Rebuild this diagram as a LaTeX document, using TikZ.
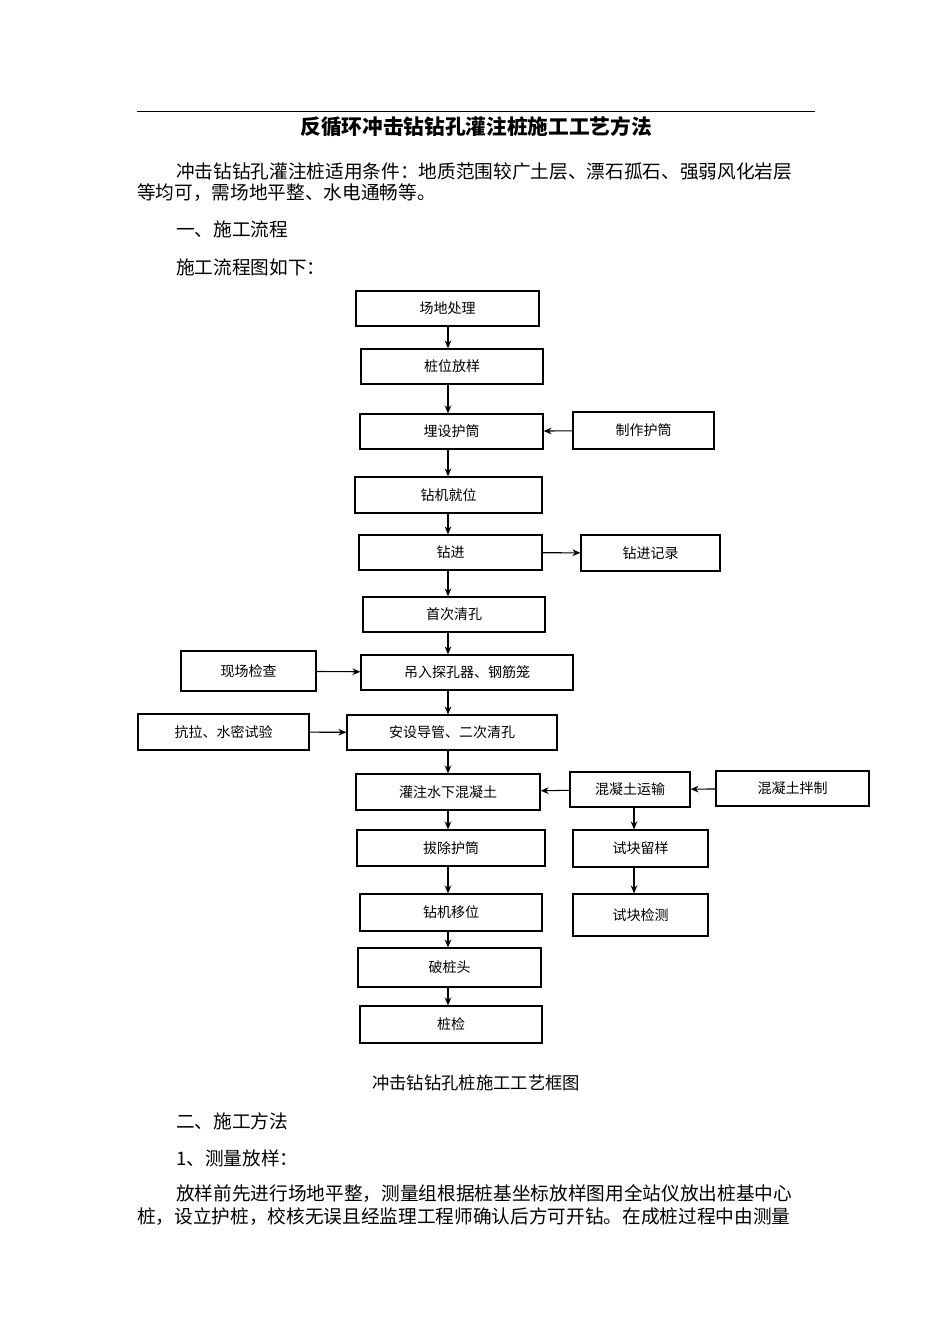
\documentclass[tikz,border=0pt]{standalone}
\usepackage{fontspec}
\setmainfont{Noto Sans CJK SC}
\usetikzlibrary{arrows.meta}
\begin{document}
\begin{tikzpicture}[x=0.75pt,y=-0.75pt,
 bx/.style={draw,line width=0.9pt,font=\fontsize{10.5}{12}\selectfont,inner sep=0pt},
 ar/.style={-{Stealth[length=6pt,width=5pt]},line width=0.8pt},
 para/.style={anchor=west,inner sep=0pt,font=\fontsize{14}{16}\selectfont}]
\useasboundingbox (0,0) rectangle (950,1344);
\draw[line width=0.6pt] (137,111) -- (815,111);
\node[inner sep=0pt,font=\bfseries\fontsize{15.5}{18}\selectfont] at (476,127) {反循环冲击钻钻孔灌注桩施工工艺方法};
\node[para] at (176,171) {冲击钻钻孔灌注桩适用条件：地质范围较广土层、漂石孤石、强弱风化岩层};
\node[para] at (137,193) {等均可，需场地平整、水电通畅等。};
\node[para] at (176,229) {一、施工流程};
\node[para] at (176,267) {施工流程图如下：};
\node[inner sep=0pt,font=\fontsize{13}{16}\selectfont] at (476,1083) {冲击钻钻孔桩施工工艺框图};
\node[para] at (176,1121) {二、施工方法};
\node[para] at (176,1158) {1、测量放样：};
\node[para] at (176,1194) {放样前先进行场地平整，测量组根据桩基坐标放样图用全站仪放出桩基中心};
\node[para] at (137,1217) {桩，设立护桩，校核无误且经监理工程师确认后方可开钻。在成桩过程中由测量};
% boxes
\newcommand{\bxx}[6]{\node[bx,minimum width={(#4-#2)*0.75pt},minimum height={(#5-#3)*0.75pt}] (#1) at ({(#2+#4)/2},{(#3+#5)/2}) {#6};}
\bxx{a}{356}{291}{539}{326}{场地处理}
\bxx{b}{361}{349}{543}{384}{桩位放样}
\bxx{c}{360}{414}{543}{449}{埋设护筒}
\bxx{c2}{573}{412}{714}{449}{制作护筒}
\bxx{d}{355}{477}{542}{513}{钻机就位}
\bxx{e}{359}{535}{542}{570}{钻进}
\bxx{e2}{581}{535}{720}{571}{钻进记录}
\bxx{f}{363}{597}{545}{632}{首次清孔}
\bxx{g}{361}{655}{573}{690}{吊入探孔器、钢筋笼}
\bxx{g2}{181}{651}{316}{691}{现场检查}
\bxx{h}{347}{715}{557}{750}{安设导管、二次清孔}
\bxx{h2}{138}{714}{309}{750}{抗拉、水密试验}
\bxx{i}{356}{774}{540}{810}{灌注水下混凝土}
\bxx{i2}{570}{772}{690}{807}{混凝土运输}
\bxx{i3}{716}{771}{869}{806}{混凝土拌制}
\bxx{j}{357}{830}{545}{866}{拔除护筒}
\bxx{j2}{573}{830}{708}{867}{试块留样}
\bxx{k}{360}{894}{542}{931}{钻机移位}
\bxx{k2}{573}{894}{708}{936}{试块检测}
\bxx{l}{358}{948}{541}{987}{破桩头}
\bxx{m}{360}{1006}{542}{1043}{桩检}
\foreach \p/\q in {a/b,b/c,c/d,d/e,e/f,f/g,g/h,h/i,i/j,j/k,k/l,l/m}
  \draw[ar] (\p.south -| 448,0) -- (\q.north -| 448,0);
\draw[ar] (c2) -- (c);
\draw[ar] (e) -- (e2);
\draw[ar] (g2) -- (g);
\draw[ar] (h2) -- (h);
\draw[ar] (i2) -- (i);
\draw[ar] (i3) -- (i2);
\draw[ar] (i2.south -| 634,0) -- (j2.north -| 634,0);
\draw[ar] (j2.south -| 634,0) -- (k2.north -| 634,0);
\end{tikzpicture}
\end{document}
